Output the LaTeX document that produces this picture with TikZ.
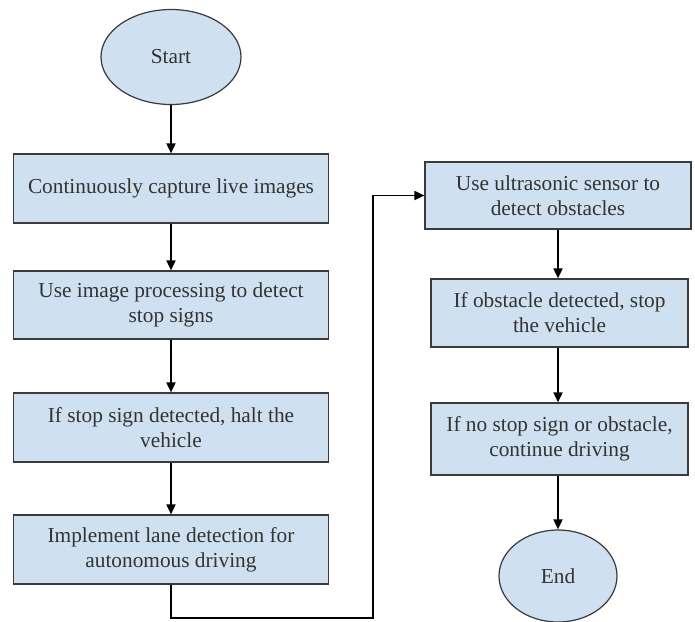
\documentclass[tikz,border=0pt]{standalone}
\usepackage{fontspec}
\setmainfont{Liberation Serif}
\usetikzlibrary{shapes.geometric,arrows.meta}
\definecolor{boxfill}{HTML}{CFE0F1}
\definecolor{boxline}{HTML}{3A3A3A}
\definecolor{txt}{HTML}{333333}
\begin{document}
\begin{tikzpicture}[x=1bp,y=-1bp,
  procbox/.style={draw=boxline,fill=boxfill,line width=1.2bp,rectangle,align=center,
    inner sep=0pt,text=txt,font=\fontsize{21.4}{25}\selectfont},
  termnode/.style={draw=boxline,fill=boxfill,line width=1.2bp,ellipse,inner sep=0pt,
    text=txt,font=\fontsize{21.4}{25}\selectfont},
  flow/.style={draw=black,line width=1.8bp,-{Triangle[length=10bp,width=9bp]}}]
\useasboundingbox (0,0) rectangle (695,622);
\fill[white] (0,0) rectangle (695,622);
\node[termnode,minimum width=140bp,minimum height=95bp] (start) at (171,57) {Start};
\node[procbox,minimum width=315bp,minimum height=69bp] (b1) at (171,188.5) {Continuously capture live images};
\node[procbox,minimum width=315bp,minimum height=68bp] (b2) at (171,305) {Use image processing to detect\\stop signs};
\node[procbox,minimum width=315bp,minimum height=69bp] (b3) at (171,427.5) {If stop sign detected, halt the\\vehicle};
\node[procbox,minimum width=315bp,minimum height=69bp] (b4) at (171,549.5) {Implement lane detection for\\autonomous driving};
\node[procbox,minimum width=266bp,minimum height=67bp] (r1) at (558,195.5) {Use ultrasonic sensor to\\detect obstacles};
\node[procbox,minimum width=257bp,minimum height=68bp] (r2) at (559.5,313) {If obstacle detected, stop\\the vehicle};
\node[procbox,minimum width=257bp,minimum height=72bp] (r3) at (559.5,439) {If no stop sign or obstacle,\\continue driving};
\node[termnode,minimum width=118bp,minimum height=92bp] (end) at (558,576) {End};
\coordinate (turn) at (373,618);
\draw[flow] (start) -- (b1);
\draw[flow] (b1) -- (b2);
\draw[flow] (b2) -- (b3);
\draw[flow] (b3) -- (b4);
\draw[flow] (b4.south) |- (turn) |- (r1.west);
\draw[flow] (r1.south -| end) -- (r2.north -| end);
\draw[flow] (r2.south -| end) -- (r3.north -| end);
\draw[flow] (r3.south -| end) -- (end);
\end{tikzpicture}
\end{document}
